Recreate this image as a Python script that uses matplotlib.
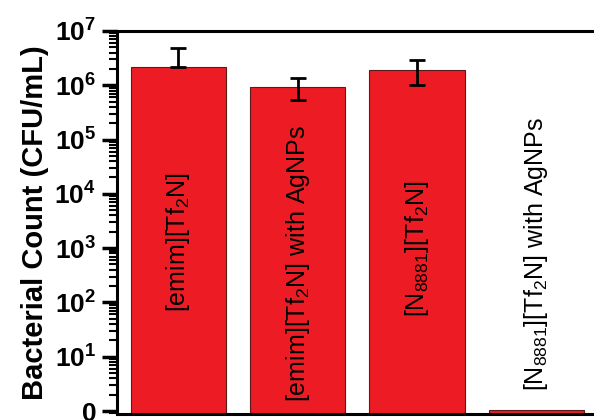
import numpy as np
import matplotlib
matplotlib.use('Agg')
import matplotlib.pyplot as plt
import matplotlib.ticker as ticker

plt.rcParams['font.family'] = ['Liberation Sans', 'DejaVu Sans']
plt.rcParams['mathtext.fontset'] = 'custom'
plt.rcParams['mathtext.rm'] = 'Liberation Sans'
plt.rcParams['mathtext.it'] = 'Liberation Sans:italic'
plt.rcParams['mathtext.bf'] = 'Liberation Sans:bold'
plt.rcParams['mathtext.default'] = 'regular'

### data -----------------------------------------------------------------
samples = [r'[emim][Tf$_2$N]',
           r'[emim][Tf$_2$N] with AgNPs',
           r'[N$_{8881}$][Tf$_2$N]',
           r'[N$_{8881}$][Tf$_2$N] with AgNPs']
counts = np.array([2.18e6, 9.35e5, 1.92e6, 1.05])
err_low = np.array([2.18e6, 5.4e5, 1.0e6, 1.05])     # lower bound of error bar
err_high = np.array([4.87e6, 1.37e6, 2.93e6, 1.05])  # upper bound of error bar
show_lower = [False, True, True, False]
ytick_vals = [1, 1e1, 1e2, 1e3, 1e4, 1e5, 1e6, 1e7]
ytick_labels = ['0', '10$^1$', '10$^2$', '10$^3$', '10$^4$', '10$^5$', '10$^6$', '10$^7$']

bar_color = '#ED1C24'

fig = plt.figure(figsize=(5.94, 4.2), dpi=100)
ax = fig.add_axes([0.197, 0.0143, 0.803, 0.912])

# bars start below the visible y-range so they run into the bottom spine
base = 0.5
xx = np.arange(len(samples))
ax.bar(xx, counts - base, width=0.8, bottom=base, color=bar_color,
       edgecolor='#5a1a1a', linewidth=0.8, zorder=2)

# error bars (first bar only shows its upper whisker)
lower = np.where(show_lower, counts - err_low, 0.0)
upper = err_high - counts
has_err = upper > 0
ax.errorbar(xx[has_err], counts[has_err],
            yerr=[lower[has_err], upper[has_err]], fmt='none', ecolor='black',
            elinewidth=2, capsize=6, capthick=2, zorder=3)

ax.set_yscale('log')
ax.set_ylim(10**-0.055, 1e7)
ax.set_xlim(-0.515, 3.483)

ax.set_yticks(ytick_vals)
ax.set_yticklabels(ytick_labels, fontsize=19, fontweight='bold')
ax.yaxis.set_minor_locator(ticker.LogLocator(base=10, subs=np.arange(2, 10)))
ax.yaxis.set_minor_formatter(ticker.NullFormatter())
ax.tick_params(axis='y', which='major', direction='out', length=11, width=2.5, pad=4)
ax.tick_params(axis='y', which='minor', direction='out', length=6, width=1.5)
ax.set_xticks([])

ax.spines['right'].set_visible(False)
for side in ['left', 'top', 'bottom']:
    ax.spines[side].set_linewidth(2.2)

ax.set_ylabel('Bacterial Count (CFU/mL)', fontsize=21, fontweight='bold', labelpad=4)

# bar names written vertically inside / above the bars
label_ypos = [0.448, 0.393, 0.432, 0.417]
for ii, (name, yp) in enumerate(zip(samples, label_ypos)):
    ax.text(ii, yp, name, rotation=90, ha='center', va='center', fontsize=18,
            transform=ax.get_xaxis_transform(), zorder=4)

fig.savefig('out.png', dpi=100)
